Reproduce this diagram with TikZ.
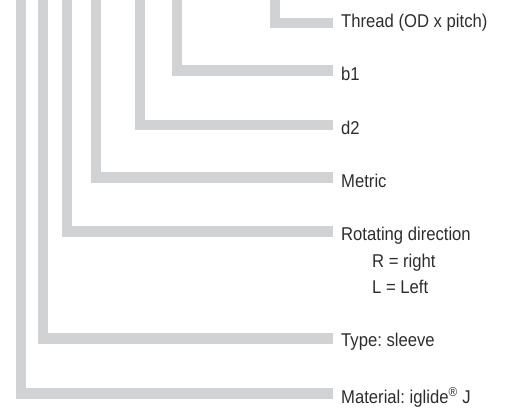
\documentclass[tikz,border=0pt]{standalone}
\usepackage{fontspec}
\setmainfont{Liberation Sans}[FakeStretch=0.9]
\frenchspacing
\definecolor{bargray}{RGB}{209,210,212}
\definecolor{txt}{RGB}{45,45,45}
\tikzset{
  bar/.style={draw=bargray, line width=10.5pt, line join=miter, line cap=butt},
  lab/.style={anchor=base west, inner sep=0pt, text=txt, font=\fontsize{18.5}{21}\selectfont}
}
\begin{document}
\begin{tikzpicture}[x=1pt,y=-1pt]
\useasboundingbox (0,0) rectangle (505,410);
% top ends of the bars
\coordinate (t1) at (275,-2);
\coordinate (t2) at (177,-2);
\coordinate (t3) at (140,-2);
\coordinate (t4) at (96,-2);
\coordinate (t5) at (67,-2);
\coordinate (t6) at (43,-2);
\coordinate (t7) at (21,-2);
% right ends of the bars
\coordinate (e1) at (333,22.8);
\coordinate (e2) at (333,70.5);
\coordinate (e3) at (333,125);
\coordinate (e4) at (333,177.5);
\coordinate (e5) at (333,231.5);
\coordinate (e6) at (333,338.5);
\coordinate (e7) at (333,393.5);
\draw[bar] (t1) |- (e1);
\draw[bar] (t2) |- (e2);
\draw[bar] (t3) |- (e3);
\draw[bar] (t4) |- (e4);
\draw[bar] (t5) |- (e5);
\draw[bar] (t6) |- (e6);
\draw[bar] (t7) |- (e7);
% labels
\node[lab] (l1) at (341,27) {Thread (OD x pitch)};
\node[lab] (l2) at (341,80) {b1};
\node[lab] (l3) at (341,134) {d2};
\node[lab] (l4) at (341,187) {Metric};
\node[lab] (l5) at (341,240) {Rotating direction};
\node[lab] (l5a) at (372,267) {R = right};
\node[lab] (l5b) at (372,293) {L = Left};
\node[lab] (l6) at (341,346.5) {Type: sleeve};
\node[lab] (l7) at (341,403) {Material: iglide\textsuperscript{®} J};
\end{tikzpicture}
\end{document}
